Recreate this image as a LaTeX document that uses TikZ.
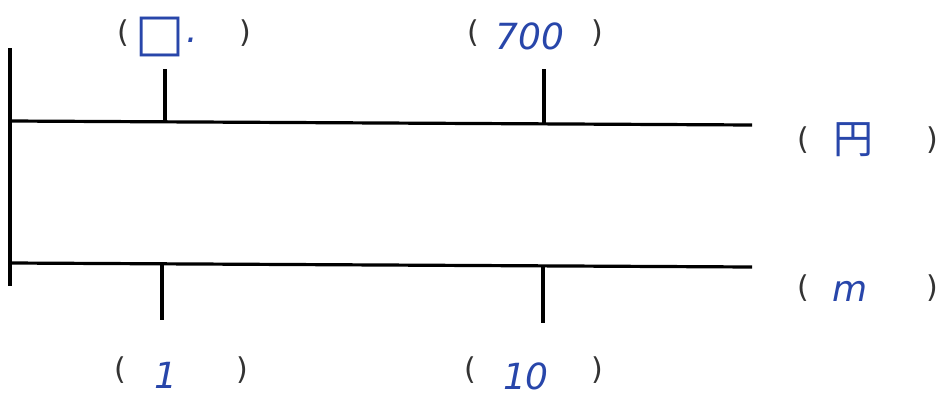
\documentclass[tikz,border=0pt]{standalone}
\usepackage{fontspec}
\setmainfont{DejaVu Sans}
\newfontfamily\jpfont{Noto Sans CJK JP}
\definecolor{ink}{RGB}{40,70,170}
\tikzset{
  axis/.style={line width=3.2pt, black},
  paren/.style={font=\fontsize{30}{32}\selectfont\color{black!80}, inner sep=0pt},
  hand/.style={font=\fontsize{36}{38}\selectfont\itshape\color{ink}, inner sep=0pt}
}
\begin{document}
\begin{tikzpicture}[x=1pt,y=-1pt]
\useasboundingbox (0,0) rectangle (940,399);
% main lines
\coordinate (vt) at (10,48);
\coordinate (vb) at (10,286);
\coordinate (t0) at (10,121);
\coordinate (t1) at (752,125);
\coordinate (b0) at (10,263);
\coordinate (b1) at (752,267);
\draw[axis] (vt) -- (vb);
\draw[axis] (t0) -- (t1);
\draw[axis] (b0) -- (b1);
% ticks
\coordinate (ta1) at (165,69);  \coordinate (ta2) at (165,122);
\coordinate (tb1) at (544,69);  \coordinate (tb2) at (544,124);
\coordinate (ba1) at (162,264); \coordinate (ba2) at (162,320);
\coordinate (bb1) at (543,266); \coordinate (bb2) at (543,323);
\draw[axis] (ta1) -- (ta2);
\draw[axis] (tb1) -- (tb2);
\draw[axis] (ba1) -- (ba2);
\draw[axis] (bb1) -- (bb2);
% top-left label
\node[paren] (l1a) at (123,33) {(};
\node[hand, font=\fontsize{52}{54}\selectfont\color{ink}] (l1b) at (160,37) {□};
\node[hand] (l1c) at (192,40) {.};
\node[paren] (l1d) at (245,33) {)};
% top-middle label
\node[paren] (l2a) at (473,33) {(};
\node[hand] (l2b) at (530,36) {700};
\node[paren] (l2d) at (597,33) {)};
% right upper label
\node[paren] (l3a) at (803,140) {(};
\node[hand, font=\jpfont\fontsize{40}{42}\selectfont\color{ink}] (l3b) at (853,140) {円};
\node[paren] (l3d) at (932,140) {)};
% right lower label
\node[paren] (l4a) at (803,288) {(};
\node[hand] (l4b) at (850,291) {m};
\node[paren] (l4d) at (932,288) {)};
% bottom-left label
\node[paren] (l5a) at (120,370) {(};
\node[hand] (l5b) at (166,375) {1};
\node[paren] (l5d) at (242,370) {)};
% bottom-middle label
\node[paren] (l6a) at (470,370) {(};
\node[hand] (l6b) at (526,376) {10};
\node[paren] (l6d) at (597,370) {)};
\end{tikzpicture}
\end{document}
